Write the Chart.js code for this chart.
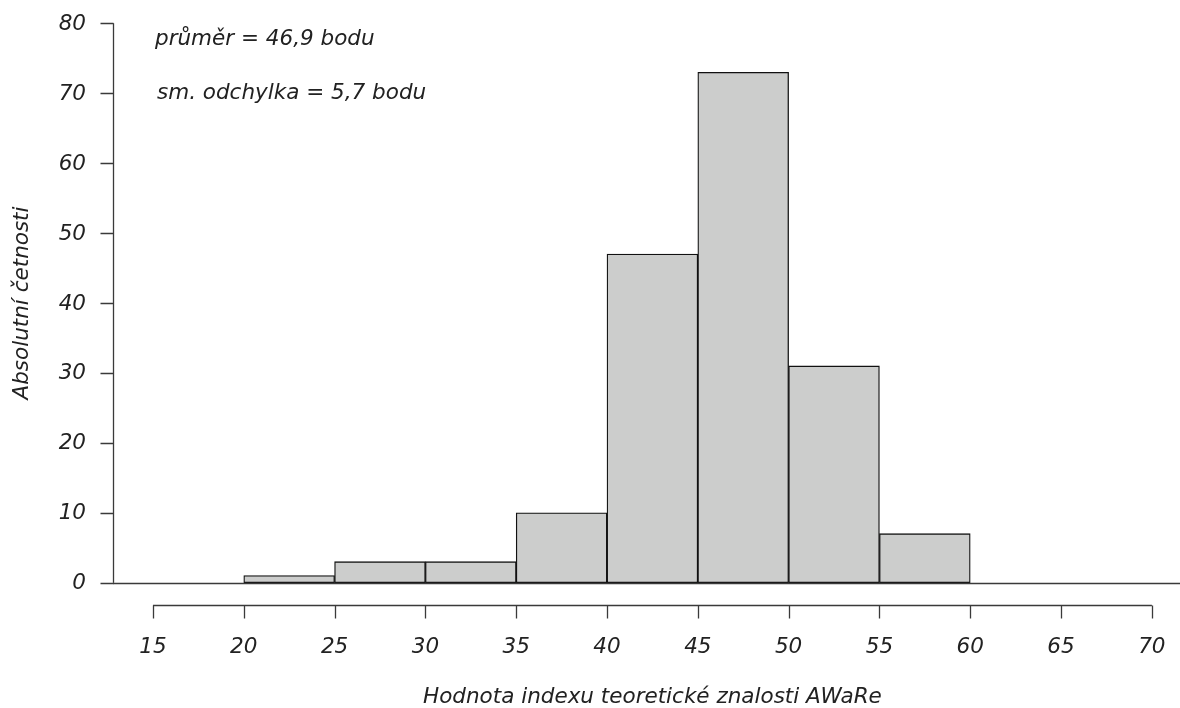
<!DOCTYPE html>
<html>
<head>
<meta charset="utf-8">
<script src="https://cdn.jsdelivr.net/npm/chart.js@4.4.1/dist/chart.umd.min.js"></script>
<style>
  html, body { margin: 0; padding: 0; background: #fff; overflow: hidden; }
  #wrap { width: 1180px; height: 708px; }
</style>
</head>
<body>
<div id="wrap"><canvas id="chart--hist" width="1180" height="708"></canvas></div>
<script>
// histogram bins (edges) and counts per bin
const binEdges = [15, 20, 25, 30, 35, 40, 45, 50, 55, 60, 65, 70]
const counts = [0, 1, 3, 3, 10, 47, 73, 31, 7, 0, 0]
const yTicks = [0, 10, 20, 30, 40, 50, 60, 70, 80]
const xTicks = [15, 20, 25, 30, 35, 40, 45, 50, 55, 60, 65, 70]

const xTitle = 'Hodnota indexu teoretické znalosti AWaRe'
const yTitle = 'Absolutní četnosti'
const notes = ['průměr = 46,9 bodu', 'sm. odchylka = 5,7 bodu']

var font = 'oblique 21.5px "DejaVu Sans", sans-serif'
var ink = '#222'
var axisCol = '#3a3a3a'

var bars = counts.map(function(c, i) {
	return { x: (binEdges[i] + binEdges[i + 1]) / 2, y: c }
})

// draws R-style axes, labels and notes
const rAxes = {
	id: 'rAxes',
	afterDraw(chart) {
		const ctx = chart.ctx
		const xs = chart.scales.x
		const ys = chart.scales.y
		const area = chart.chartArea
		ctx.save()
		ctx.strokeStyle = axisCol
		ctx.lineWidth = 1.3
		ctx.fillStyle = ink
		ctx.font = font

		// zero line
		var y0 = Math.round(ys.getPixelForValue(0)) + 0.5
		ctx.beginPath()
		ctx.moveTo(area.left, y0)
		ctx.lineTo(chart.width, y0)
		ctx.stroke()

		// y axis
		var yl = Math.round(area.left) + 0.5
		ctx.beginPath()
		ctx.moveTo(yl, ys.getPixelForValue(yTicks[0]))
		ctx.lineTo(yl, ys.getPixelForValue(yTicks[yTicks.length - 1]))
		yTicks.forEach(function(t) {
			var p = Math.round(ys.getPixelForValue(t)) + 0.5
			ctx.moveTo(yl, p)
			ctx.lineTo(yl - 13, p)
		})
		ctx.stroke()
		ctx.textAlign = 'right'
		ctx.textBaseline = 'middle'
		yTicks.forEach(function(t) {
			ctx.fillText(String(t), 86, ys.getPixelForValue(t) + 1)
		})

		// x axis below plot
		var xb = Math.round(area.bottom) + 0.5
		ctx.beginPath()
		ctx.moveTo(xs.getPixelForValue(xTicks[0]), xb)
		ctx.lineTo(xs.getPixelForValue(xTicks[xTicks.length - 1]), xb)
		xTicks.forEach(function(t) {
			var p = Math.round(xs.getPixelForValue(t)) + 0.5
			ctx.moveTo(p, xb)
			ctx.lineTo(p, xb + 13)
		})
		ctx.stroke()
		ctx.textAlign = 'center'
		xTicks.forEach(function(t) {
			ctx.fillText(String(t), xs.getPixelForValue(t), 647)
		})

		// titles
		var mid = (xs.getPixelForValue(xTicks[0]) + xs.getPixelForValue(xTicks[xTicks.length - 1])) / 2
		ctx.fillText(xTitle, mid, 697)
		ctx.save()
		ctx.translate(22, (ys.getPixelForValue(0) + ys.getPixelForValue(80)) / 2)
		ctx.rotate(-Math.PI / 2)
		ctx.fillText(yTitle, 0, 0)
		ctx.restore()

		// notes
		ctx.textAlign = 'left'
		ctx.fillText(notes[0], 155, 39)
		ctx.fillText(notes[1], 157, 93)
		ctx.restore()
	}
}

const ctx = document.getElementById('chart--hist').getContext('2d')
const chart__hist = new Chart(ctx, {
	type: 'bar',
	data: {
		datasets: [{
			data: bars,
			backgroundColor: '#cccdcc',
			borderColor: '#111',
			borderWidth: 1.3,
			borderSkipped: false,
			barPercentage: 1,
			categoryPercentage: 1
		}]
	},
	options: {
		responsive: false,
		animation: false,
		layout: {
			padding: { left: 113, right: 0, top: 1, bottom: 103 }
		},
		plugins: {
			legend: { display: false },
			tooltip: { enabled: false }
		},
		scales: {
			x: {
				type: 'linear',
				display: false,
				offset: false,
				min: 12.8,
				max: 71.55
			},
			y: {
				display: false,
				min: -3.2,
				max: 83.2
			}
		}
	},
	plugins: [rAxes]
})
</script>
</body>
</html>
